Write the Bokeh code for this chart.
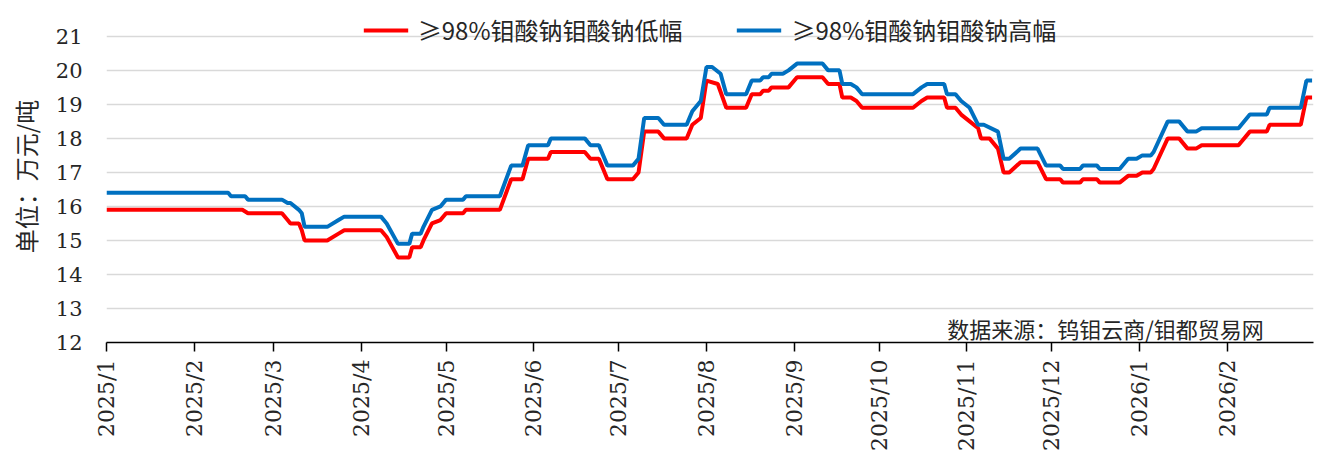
import math
import pandas as pd
from bokeh.plotting import figure
from bokeh.models import (FixedTicker, Legend, LegendItem, Range1d, ColumnDataSource,
                          DatetimeTickFormatter)
from bokeh.core.properties import value
from bokeh.embed import file_html
from bokeh.resources import INLINE

series_names = ["≥98%钼酸钠钼酸钠低幅", "≥98%钼酸钠钼酸钠高幅"]

low_dates = [
    "2025-01-01", "2025-02-18", "2025-02-20", "2025-03-04", "2025-03-06", "2025-03-07",
    "2025-03-10", "2025-03-11", "2025-03-12", "2025-03-20", "2025-03-24", "2025-03-26",
    "2025-04-08", "2025-04-10", "2025-04-14", "2025-04-18", "2025-04-19", "2025-04-22",
    "2025-04-23", "2025-04-26", "2025-04-29", "2025-05-01", "2025-05-07", "2025-05-08",
    "2025-05-20", "2025-05-24", "2025-05-28", "2025-05-30",
    "2025-06-06", "2025-06-07", "2025-06-19", "2025-06-21", "2025-06-24", "2025-06-27",
    "2025-07-06", "2025-07-08", "2025-07-10", "2025-07-15", "2025-07-17", "2025-07-25",
    "2025-07-27", "2025-07-30",
    "2025-08-01", "2025-08-05", "2025-08-08", "2025-08-15", "2025-08-17", "2025-08-20",
    "2025-08-21", "2025-08-23", "2025-08-24", "2025-08-30", "2025-09-02", "2025-09-11",
    "2025-09-13", "2025-09-17", "2025-09-18", "2025-09-21", "2025-09-23", "2025-09-25",
    "2025-10-13", "2025-10-16", "2025-10-18", "2025-10-24", "2025-10-25", "2025-10-28",
    "2025-10-30", "2025-11-02", "2025-11-05", "2025-11-06", "2025-11-09", "2025-11-12",
    "2025-11-14", "2025-11-16", "2025-11-20", "2025-11-26", "2025-11-29",
    "2025-12-04", "2025-12-05", "2025-12-11", "2025-12-12", "2025-12-17", "2025-12-18",
    "2025-12-25", "2025-12-28", "2025-12-31", "2026-01-02", "2026-01-05", "2026-01-06",
    "2026-01-11", "2026-01-15", "2026-01-18", "2026-01-21", "2026-01-23", "2026-02-05",
    "2026-02-09", "2026-02-15", "2026-02-16", "2026-02-27", "2026-03-01", "2026-03-03",
]
low_values = [
    15.9, 15.9, 15.8, 15.8, 15.6, 15.5,
    15.5, 15.3, 15.0, 15.0, 15.2, 15.3,
    15.3, 15.1, 14.5, 14.5, 14.8, 14.8,
    15.0, 15.5, 15.6, 15.8, 15.8, 15.9,
    15.9, 16.8, 16.8, 17.4,
    17.4, 17.6, 17.6, 17.4, 17.4, 16.8,
    16.8, 17.0, 18.2, 18.2, 18.0, 18.0,
    18.4, 18.6,
    19.7, 19.6, 18.9, 18.9, 19.3, 19.3,
    19.4, 19.4, 19.5, 19.5, 19.8, 19.8,
    19.6, 19.6, 19.2, 19.2, 19.1, 18.9,
    18.9, 19.1, 19.2, 19.2, 18.9, 18.9,
    18.7, 18.5, 18.3, 18.0, 18.0, 17.7,
    17.0, 17.0, 17.3, 17.3, 16.8,
    16.8, 16.7, 16.7, 16.8, 16.8, 16.7,
    16.7, 16.9, 16.9, 17.0, 17.0, 17.1,
    18.0, 18.0, 17.7, 17.7, 17.8, 17.8,
    18.2, 18.2, 18.4, 18.4, 19.2, 19.2,
]

high_dates = [
    "2025-01-01", "2025-02-13", "2025-02-14", "2025-02-19", "2025-02-20", "2025-03-04",
    "2025-03-06", "2025-03-07", "2025-03-10", "2025-03-11", "2025-03-12", "2025-03-20",
    "2025-03-24", "2025-03-26",
    "2025-04-08", "2025-04-10", "2025-04-14", "2025-04-18", "2025-04-19", "2025-04-22",
    "2025-04-23", "2025-04-26", "2025-04-29", "2025-05-01", "2025-05-07", "2025-05-08",
    "2025-05-20", "2025-05-24", "2025-05-28", "2025-05-30",
    "2025-06-06", "2025-06-07", "2025-06-19", "2025-06-21", "2025-06-24", "2025-06-27",
    "2025-07-06", "2025-07-08", "2025-07-10", "2025-07-15", "2025-07-17", "2025-07-25",
    "2025-07-27", "2025-07-30",
    "2025-08-01", "2025-08-03", "2025-08-06", "2025-08-08", "2025-08-15", "2025-08-17",
    "2025-08-20", "2025-08-21", "2025-08-23", "2025-08-24", "2025-08-28", "2025-08-30",
    "2025-09-02", "2025-09-11", "2025-09-13", "2025-09-17", "2025-09-18", "2025-09-21",
    "2025-09-23", "2025-09-25",
    "2025-10-13", "2025-10-16", "2025-10-18", "2025-10-24", "2025-10-25", "2025-10-28",
    "2025-10-30", "2025-11-02", "2025-11-05", "2025-11-07", "2025-11-12", "2025-11-14",
    "2025-11-16", "2025-11-20", "2025-11-26", "2025-11-29",
    "2025-12-04", "2025-12-05", "2025-12-11", "2025-12-12", "2025-12-17", "2025-12-18",
    "2025-12-25", "2025-12-28", "2025-12-31", "2026-01-02", "2026-01-05", "2026-01-06",
    "2026-01-11", "2026-01-15", "2026-01-18", "2026-01-21", "2026-01-23", "2026-02-05",
    "2026-02-09", "2026-02-15", "2026-02-16", "2026-02-27", "2026-03-01", "2026-03-03",
]
high_values = [
    16.4, 16.4, 16.3, 16.3, 16.2, 16.2,
    16.1, 16.1, 15.9, 15.8, 15.4, 15.4,
    15.6, 15.7,
    15.7, 15.5, 14.9, 14.9, 15.2, 15.2,
    15.4, 15.9, 16.0, 16.2, 16.2, 16.3,
    16.3, 17.2, 17.2, 17.8,
    17.8, 18.0, 18.0, 17.8, 17.8, 17.2,
    17.2, 17.4, 18.6, 18.6, 18.4, 18.4,
    18.8, 19.1,
    20.1, 20.1, 19.9, 19.3, 19.3, 19.7,
    19.7, 19.8, 19.8, 19.9, 19.9, 20.0,
    20.2, 20.2, 20.0, 20.0, 19.6, 19.6,
    19.5, 19.3,
    19.3, 19.5, 19.6, 19.6, 19.3, 19.3,
    19.1, 18.9, 18.4, 18.4, 18.2, 17.4,
    17.4, 17.7, 17.7, 17.2,
    17.2, 17.1, 17.1, 17.2, 17.2, 17.1,
    17.1, 17.4, 17.4, 17.5, 17.5, 17.6,
    18.5, 18.5, 18.2, 18.2, 18.3, 18.3,
    18.7, 18.7, 18.9, 18.9, 19.7, 19.7,
]

month_ticks = [
    "2025-01-01", "2025-02-01", "2025-03-01", "2025-04-01", "2025-05-01", "2025-06-01",
    "2025-07-01", "2025-08-01", "2025-09-01", "2025-10-01", "2025-11-01", "2025-12-01",
    "2026-01-01", "2026-02-01",
]
month_label_format = "%Y/%-m"
axis_start = "2025-01-01"
axis_end = "2026-03-03 12:00"
y_ticks = [12, 13, 14, 15, 16, 17, 18, 19, 20, 21, 22]
y_min, y_max = 12, 21.76

unit_label = "单位：万元/吨"
source_label = "数据来源：钨钼云商/钼都贸易网"
source_x, source_y = "2025-12-20", 12.44

assert len(low_dates) == len(low_values)
assert len(high_dates) == len(high_values)


def to_ms(s):
    return float(pd.Timestamp(s).value // 10**6)


low_src = ColumnDataSource(data=dict(x=[to_ms(d) for d in low_dates], y=list(low_values)))
high_src = ColumnDataSource(data=dict(x=[to_ms(d) for d in high_dates], y=list(high_values)))

tick_ms = [to_ms(d) for d in month_ticks]
end_ms = to_ms(axis_end)

SERIF = "DejaVu Serif"
CJK = "Noto Sans CJK SC"
TXT = "#262626"

p = figure(
    width=1321, height=453,
    x_axis_type="datetime",
    x_range=Range1d(to_ms(axis_start), end_ms),
    y_range=Range1d(y_min, y_max),
    output_backend="svg", toolbar_location=None,
    min_border_left=106, min_border_right=8, min_border_top=10, min_border_bottom=110,
)
p.outline_line_color = None

r_low = p.line("x", "y", source=low_src, line_width=4, line_color="#FF0000")
r_high = p.line("x", "y", source=high_src, line_width=4, line_color="#0070C0")

src_text = ColumnDataSource(data=dict(x=[to_ms(source_x)], y=[source_y], t=[source_label]))
p.text(x="x", y="y", text="t", source=src_text, text_align="center", text_baseline="middle",
       text_font=value(CJK), text_font_size="22px", text_color=TXT)

# x axis
p.xaxis.ticker = FixedTicker(ticks=tick_ms)
p.xaxis.formatter = DatetimeTickFormatter(
    years=month_label_format, months=month_label_format, days=month_label_format)
p.xaxis.major_label_orientation = math.pi / 2
p.xaxis.axis_line_color = "black"
p.xaxis.axis_line_width = 1.5
p.xaxis.major_tick_line_color = "black"
p.xaxis.major_tick_line_width = 1.5
p.xaxis.major_tick_out = 9
p.xaxis.major_tick_in = 0
p.xaxis.minor_tick_line_color = None
p.xaxis.major_label_standoff = 8
p.xaxis.major_label_text_font = SERIF
p.xaxis.major_label_text_font_size = "22px"
p.xaxis.major_label_text_color = TXT

# y axis
p.yaxis.ticker = FixedTicker(ticks=y_ticks)
p.yaxis.axis_line_color = None
p.yaxis.major_tick_line_color = None
p.yaxis.minor_tick_line_color = None
p.yaxis.major_label_standoff = 18
p.yaxis.major_label_text_font = SERIF
p.yaxis.major_label_text_font_size = "21px"
p.yaxis.major_label_text_color = TXT
p.yaxis.axis_label = unit_label
p.yaxis.axis_label_text_font = CJK
p.yaxis.axis_label_text_font_style = "normal"
p.yaxis.axis_label_text_font_size = "24px"
p.yaxis.axis_label_text_color = TXT
p.yaxis.axis_label_standoff = 10

p.xgrid.visible = False
p.ygrid.grid_line_color = "#d9d9d9"
p.ygrid.grid_line_width = 1.5

legend = Legend(
    items=[LegendItem(label=series_names[0], renderers=[r_low]),
           LegendItem(label=series_names[1], renderers=[r_high])],
    orientation="horizontal", location="top",
    glyph_width=45, glyph_height=20, label_standoff=10, spacing=54,
    padding=0, margin=2, border_line_color=None, background_fill_alpha=0,
    label_text_font=CJK, label_text_font_size="24px", label_text_color=TXT,
)
p.add_layout(legend)

open("out.html", "w").write(file_html(p, INLINE))
